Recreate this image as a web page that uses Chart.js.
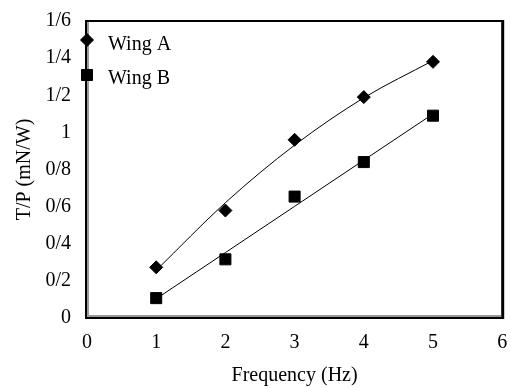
<!DOCTYPE html>
<html><head><meta charset="utf-8">
<script src="https://cdn.jsdelivr.net/npm/chart.js@4/dist/chart.umd.min.js"></script>
<style>html,body{margin:0;padding:0;background:#fff;overflow:hidden}#wrap{width:511px;height:388px;overflow:hidden}canvas{display:block}</style>
</head><body><div id="wrap"><canvas id="c" width="511" height="388"></canvas></div>
<script>
const frequency = [1, 2, 3, 4, 5];
const wingA = [0.273, 0.579, 0.96, 1.19, 1.38];
const wingB = [0.107, 0.316, 0.654, 0.84, 1.09];
const yTickValues = [0, 0.2, 0.4, 0.6, 0.8, 1, 1.2, 1.4, 1.6];
const yTickLabels = ['0', '0/2', '0/4', '0/6', '0/8', '1', '1/2', '1/4', '1/6'];
const xTickLabels = ['0', '1', '2', '3', '4', '5', '6'];
const seriesNames = ['Wing A', 'Wing B'];

// least-squares trendlines fitted to the data (polynomial order 2 for A, linear for B)
function polyFit(xs, ys, order) {
  const n = order + 1;
  const A = [], b = [];
  for (let i = 0; i < n; i++) {
    A.push([]);
    for (let j = 0; j < n; j++) A[i].push(xs.reduce((s, x) => s + Math.pow(x, i + j), 0));
    b.push(xs.reduce((s, x, k) => s + Math.pow(x, i) * ys[k], 0));
  }
  for (let i = 0; i < n; i++) {
    for (let k = i + 1; k < n; k++) {
      const f = A[k][i] / A[i][i];
      for (let j = i; j < n; j++) A[k][j] -= f * A[i][j];
      b[k] -= f * b[i];
    }
  }
  const c = new Array(n).fill(0);
  for (let i = n - 1; i >= 0; i--) {
    let s = b[i];
    for (let j = i + 1; j < n; j++) s -= A[i][j] * c[j];
    c[i] = s / A[i][i];
  }
  return x => c.reduce((s, ci, i) => s + ci * Math.pow(x, i), 0);
}
const fitA = polyFit(frequency, wingA, 2);
const fitB = polyFit(frequency, wingB, 1);

const FONT = "'Liberation Serif', 'Times New Roman', serif";
const noPad = () => ({ left: 0, top: 0, right: 0, bottom: 0 });

const frame = {
  id: 'frame',
  beforeDatasetsDraw(chart) {
    const { ctx, chartArea: a } = chart;
    ctx.save();
    ctx.strokeStyle = '#000';
    ctx.lineWidth = 2;
    ctx.beginPath();
    ctx.moveTo(a.left - 1, a.top);
    ctx.lineTo(a.right, a.top);
    ctx.moveTo(a.left - 1, a.top - 1);
    ctx.lineTo(a.left - 1, a.bottom + 1);
    ctx.moveTo(a.left - 2, a.bottom);
    ctx.lineTo(a.right, a.bottom);
    ctx.stroke();
    ctx.lineWidth = 3;
    ctx.beginPath();
    ctx.moveTo(a.right + 0.5, a.top - 1);
    ctx.lineTo(a.right + 0.5, a.bottom + 1);
    ctx.stroke();
    ctx.strokeStyle = '#9a9a9a';
    ctx.lineWidth = 2;
    ctx.beginPath();
    ctx.moveTo(a.left + 1, a.top + 1);
    ctx.lineTo(a.left + 1, a.bottom - 2);
    ctx.lineTo(a.right - 1, a.bottom - 2);
    ctx.stroke();
    ctx.restore();
  },
  afterDraw(chart) {
    const { ctx, chartArea: a } = chart;
    ctx.save();
    const items = [
      { style: 'rectRot', r: 6.5, y: 40, ty: 45 },
      { style: 'rect', r: 7.8, y: 75, ty: 79 }
    ];
    items.forEach((it, i) => {
      ctx.fillStyle = '#000';
      ctx.strokeStyle = '#000';
      ctx.lineWidth = 1;
      Chart.helpers.drawPoint(ctx, { pointStyle: it.style, radius: it.r, borderWidth: 1 }, a.left, it.y);
      ctx.font = '20px ' + FONT;
      ctx.textBaseline = 'middle';
      ctx.textAlign = 'left';
      ctx.fillText(seriesNames[i], 108, it.ty);
    });
    ctx.restore();
  }
};

new Chart(document.getElementById('c'), {
  type: 'scatter',
  data: {
    datasets: [
      { label: seriesNames[0], data: frequency.map((x, i) => ({ x, y: wingA[i] })),
        pointStyle: 'rectRot', pointRadius: 6.5, backgroundColor: '#000', borderColor: '#000', showLine: false },
      { label: seriesNames[1], data: frequency.map((x, i) => ({ x, y: wingB[i] })),
        pointStyle: 'rect', pointRadius: 7.8, backgroundColor: '#000', borderColor: '#000', showLine: false },
      { label: 'trendA', data: frequency.map(x => ({ x, y: fitA(x) })), showLine: true,
        pointRadius: 0, borderColor: '#000', borderWidth: 1, cubicInterpolationMode: 'monotone' },
      { label: 'trendB', data: frequency.map(x => ({ x, y: fitB(x) })), showLine: true,
        pointRadius: 0, borderColor: '#000', borderWidth: 1 }
    ]
  },
  options: {
    responsive: false,
    animation: false,
    layout: { padding: { top: 21, right: 7, left: 0, bottom: 0 } },
    plugins: { legend: { display: false }, tooltip: { enabled: false } },
    scales: {
      x: {
        type: 'linear', min: 0, max: 6,
        afterFit: s => { s.height = 70; s.paddingRight = 0; s.paddingLeft = 0; s.getPadding = noPad; },
        afterBuildTicks: s => { s.ticks = xTickLabels.map((t, i) => ({ value: i })); },
        ticks: { color: '#000', font: { family: FONT, size: 20 }, padding: 13,
                 callback: (v, i) => xTickLabels[i] },
        grid: { display: false, drawTicks: false },
        border: { display: false },
        title: { display: true, text: 'Frequency (Hz)', color: '#000',
                 font: { family: FONT, size: 20 }, padding: { top: 0, bottom: 0 } }
      },
      y: {
        type: 'linear', min: 0, max: 1.6,
        afterFit: s => { s.width = 87; s.paddingTop = 0; s.paddingBottom = 0; s.getPadding = noPad; },
        afterBuildTicks: s => { s.ticks = yTickValues.map(v => ({ value: v })); },
        ticks: { color: '#000', font: { family: FONT, size: 20 }, padding: 16,
                 callback: (v, i) => yTickLabels[i] },
        grid: { display: false, drawTicks: false },
        border: { display: false },
        title: { display: true, text: 'T/P (mN/W)', color: '#000',
                 font: { family: FONT, size: 20 }, padding: { top: 13, bottom: 0 } }
      }
    }
  },
  plugins: [frame]
});
</script>
</body></html>
